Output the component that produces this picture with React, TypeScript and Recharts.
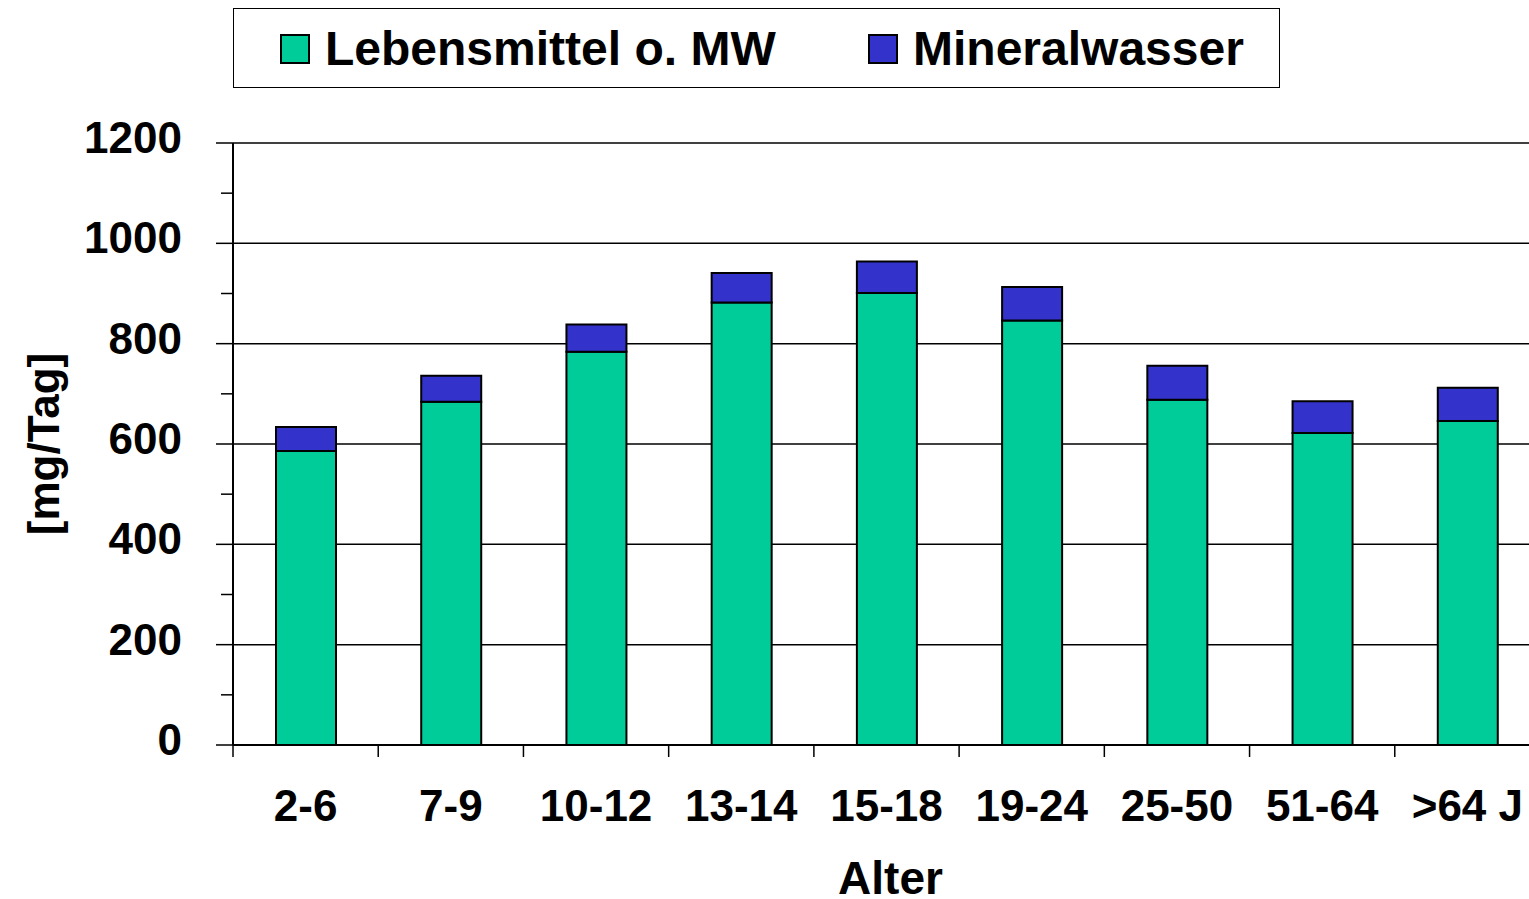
import React from 'react';
import { BarChart, Bar, XAxis, YAxis, CartesianGrid, Legend } from 'recharts';

const categories = ['2-6', '7-9', '10-12', '13-14', '15-18', '19-24', '25-50', '51-64', '>64 J'];
const lebensmittel = [586, 684, 784, 882, 901, 846, 688, 622, 646];
const mineralwasser = [48, 52, 54, 59, 63, 67, 68, 63, 66];
const yTicks = [0, 100, 200, 300, 400, 500, 600, 700, 800, 900, 1000, 1100, 1200];
const yMajorTicks = [0, 200, 400, 600, 800, 1000, 1200];
const seriesNames = ['Lebensmittel o. MW', 'Mineralwasser'];
const seriesColors = ['#00CC99', '#3333CC'];

const data = categories.map((c, i) => ({
  cat: c,
  leb: lebensmittel[i],
  min: mineralwasser[i],
}));

const FONT = '"Liberation Sans", Arial, sans-serif';
const CHART_W = 1540;
const CHART_H = 899;
const Y_W = 233;
const BAND = (CHART_W - Y_W) / categories.length;

const YTick = (props: any) => {
  const { x, y, payload } = props;
  const major = yMajorTicks.includes(payload.value);
  return (
    <g>
      <line x1={x - (major ? 17 : 12)} x2={x} y1={y} y2={y} stroke="#000" strokeWidth={1.5} />
      {major && (
        <text x={x - 51} y={y + 10} textAnchor="end" fontFamily={FONT} fontWeight="bold" fontSize={44} fill="#000">
          {payload.value}
        </text>
      )}
    </g>
  );
};

const XTick = (props: any) => {
  const { x, y, payload } = props;
  return (
    <g>
      <line x1={x - BAND / 2} x2={x - BAND / 2} y1={y} y2={y + 12} stroke="#000" strokeWidth={1.5} />
      <text x={x} y={y + 76} textAnchor="middle" fontFamily={FONT} fontWeight="bold" fontSize={44} fill="#000">
        {payload.value}
      </text>
    </g>
  );
};

const LegendContent = () => (
  <div
    style={{
      position: 'relative',
      width: 1047,
      height: 80,
      border: '1.5px solid #000',
      boxSizing: 'border-box',
      background: '#fff',
      fontFamily: FONT,
      fontWeight: 'bold',
      fontSize: 48,
    }}
  >
    {seriesNames.map((name, i) => (
      <div
        key={name}
        style={{
          position: 'absolute',
          left: i === 0 ? 46 : 634,
          top: 1,
          height: 78,
          display: 'flex',
          alignItems: 'center',
          whiteSpace: 'nowrap',
        }}
      >
        <span
          style={{
            display: 'inline-block',
            width: 30,
            height: 30,
            background: seriesColors[i],
            border: '2px solid #000',
            boxSizing: 'border-box',
            marginRight: 15,
          }}
        />
        <span style={{ lineHeight: '78px', color: '#000' }}>{name}</span>
      </div>
    ))}
  </div>
);

export default function App() {
  return (
    <div style={{ position: 'absolute', left: 0, top: 0, width: 1529, height: 899, overflow: 'hidden', background: '#fff' }}>
      <BarChart
        width={CHART_W}
        height={CHART_H}
        data={data}
        margin={{ top: 143, right: 0, bottom: 0, left: 0 }}
      >
        <CartesianGrid
          vertical={false}
          horizontalValues={yMajorTicks}
          stroke="#000"
          strokeWidth={1.5}
        />
        <XAxis
          dataKey="cat"
          height={154}
          tickSize={0}
          tickMargin={0}
          tickLine={false}
          interval={0}
          tick={<XTick />}
          axisLine={{ stroke: '#000', strokeWidth: 2 }}
          label={(p: any) => {
            const vb = p.viewBox || {};
            return (
              <text x={(vb.x ?? 233) + (vb.width ?? 1307) / 2 + 4} y={(vb.y ?? 745) + 149} textAnchor="middle" fontFamily={FONT} fontWeight="bold" fontSize={46} fill="#000">
                Alter
              </text>
            );
          }}
        />
        <YAxis
          width={Y_W}
          domain={[0, 1200]}
          ticks={yTicks}
          interval={0}
          tickSize={0}
          tickMargin={0}
          tickLine={false}
          tick={<YTick />}
          axisLine={{ stroke: '#000', strokeWidth: 2 }}
          label={(p: any) => {
            const vb = p.viewBox || {};
            const cy = (vb.y ?? 143) + (vb.height ?? 602) / 2;
            return (
              <text x={43} y={cy} transform={`rotate(-90, 43, ${cy})`} textAnchor="middle" dominantBaseline="central" fontFamily={FONT} fontWeight="bold" fontSize={44} fill="#000">
                [mg/Tag]
              </text>
            );
          }}
        />
        <Legend
          layout="vertical"
          align="center"
          verticalAlign="middle"
          content={<LegendContent />}
          wrapperStyle={{ position: 'absolute', left: 233, top: 8, width: 1047, height: 80 }}
        />
        <Bar dataKey="leb" name={seriesNames[0]} stackId="a" fill={seriesColors[0]} stroke="#000" strokeWidth={2} barSize={60} isAnimationActive={false} />
        <Bar dataKey="min" name={seriesNames[1]} stackId="a" fill={seriesColors[1]} stroke="#000" strokeWidth={2} barSize={60} isAnimationActive={false} />
      </BarChart>
    </div>
  );
}
